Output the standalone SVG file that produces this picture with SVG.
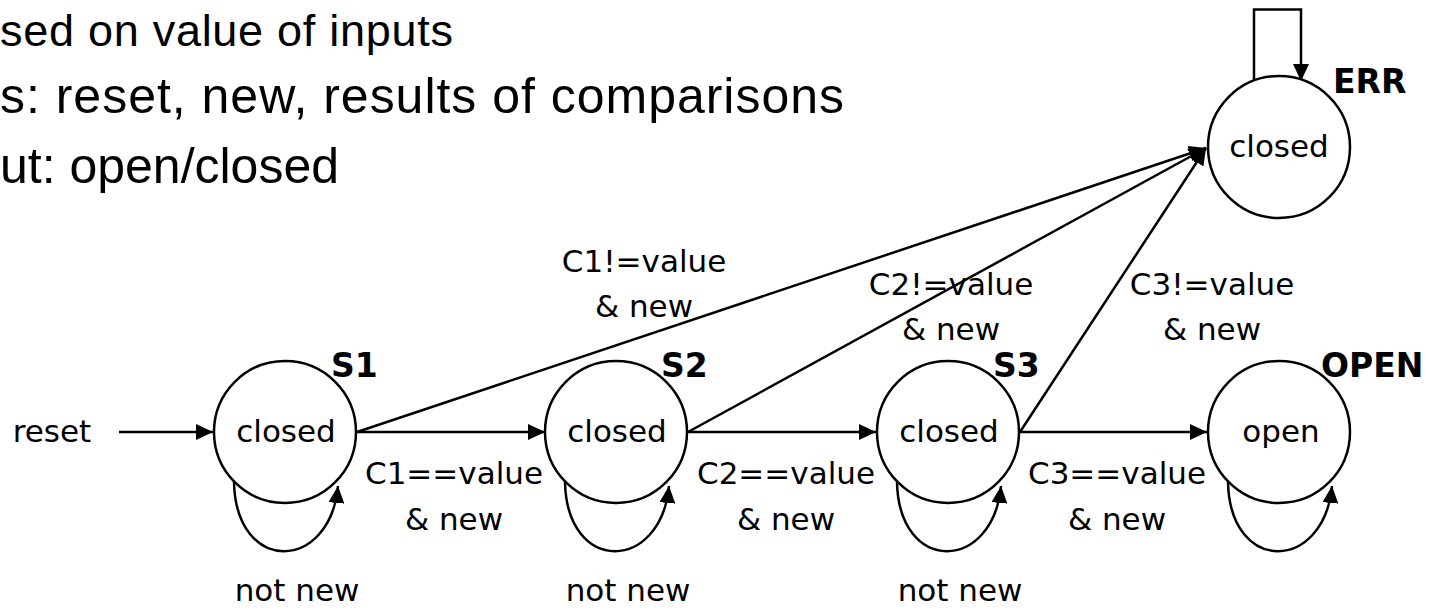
<svg xmlns="http://www.w3.org/2000/svg" width="1431" height="612" viewBox="0 0 1431 612">
  <style>
    .bullet { font-family: "Liberation Sans", Arial, sans-serif; font-size: 50px; fill: #000; }
    .lbl { font-family: "DejaVu Sans", Verdana, sans-serif; font-size: 31px; fill: #000; text-anchor: middle; }
    .name { font-family: "DejaVu Sans", Verdana, sans-serif; font-size: 33px; font-weight: bold; fill: #000; }
    .state { fill: #fff; stroke: #000; stroke-width: 2.5; }
    .edge { fill: none; stroke: #000; stroke-width: 2.5; marker-end: url(#arr); }
  </style>
  <defs>
    <marker id="arr" markerUnits="userSpaceOnUse" markerWidth="18" markerHeight="16" refX="17" refY="8" orient="auto">
      <path d="M0,0 L17,8 L0,16 z" fill="#000"/>
    </marker>
  </defs>

  <rect width="1431" height="612" fill="#fff"/>

  <!-- bullet text, clipped at the left edge -->
  <g id="bullets">
    <text class="bullet" x="0" y="46" style="font-size:45px" textLength="453" lengthAdjust="spacing">sed on value of inputs</text>
    <text class="bullet" x="0" y="113" textLength="844" lengthAdjust="spacing">s: reset, new, results of comparisons</text>
    <text class="bullet" x="0" y="183" textLength="339" lengthAdjust="spacing">ut: open/closed</text>
  </g>

  <!-- transitions -->
  <g id="connectors">
    <!-- reset entry -->
    <line class="edge" x1="119" y1="432" x2="213" y2="432"/>
    <!-- forward transitions -->
    <line class="edge" x1="357" y1="432" x2="545" y2="432"/>
    <line class="edge" x1="688" y1="432" x2="876" y2="432"/>
    <line class="edge" x1="1020" y1="432" x2="1207" y2="432"/>
    <!-- error transitions -->
    <line class="edge" x1="357" y1="432" x2="1206" y2="148"/>
    <line class="edge" x1="688" y1="432" x2="1206" y2="148"/>
    <line class="edge" x1="1020" y1="432" x2="1206" y2="148"/>
    <!-- self loops -->
    <path class="edge" d="M234,482 C236,575 330,572 338,486"/>
    <path class="edge" d="M565,482 C567,575 661,572 669,486"/>
    <path class="edge" d="M897,482 C899,575 993,572 1001,486"/>
    <path class="edge" d="M1228,482 C1230,575 1324,572 1332,486"/>
    <path class="edge" d="M1254,82 V9.5 H1301 V81"/>

    <!-- transition labels -->
    <text class="lbl" x="644" y="272">C1!=value</text>
    <text class="lbl" x="644" y="317">&amp; new</text>
    <text class="lbl" x="951" y="295">C2!=value</text>
    <text class="lbl" x="951" y="340">&amp; new</text>
    <text class="lbl" x="1212" y="295">C3!=value</text>
    <text class="lbl" x="1212" y="340">&amp; new</text>
    <text class="lbl" x="454" y="484">C1==value</text>
    <text class="lbl" x="454" y="530">&amp; new</text>
    <text class="lbl" x="786" y="484">C2==value</text>
    <text class="lbl" x="786" y="530">&amp; new</text>
    <text class="lbl" x="1117" y="484">C3==value</text>
    <text class="lbl" x="1117" y="530">&amp; new</text>
    <text class="lbl" x="297" y="601">not new</text>
    <text class="lbl" x="628" y="601">not new</text>
    <text class="lbl" x="960" y="601">not new</text>
    <text class="lbl" x="52" y="442">reset</text>
  </g>

  <!-- states -->
  <g id="S1">
    <circle class="state" cx="285" cy="432" r="71"/>
    <text class="lbl" x="286" y="442">closed</text>
    <text class="name" x="331" y="377">S1</text>
  </g>
  <g id="S2">
    <circle class="state" cx="616" cy="432" r="71"/>
    <text class="lbl" x="617" y="442">closed</text>
    <text class="name" x="661" y="377">S2</text>
  </g>
  <g id="S3">
    <circle class="state" cx="948" cy="432" r="71"/>
    <text class="lbl" x="949" y="442">closed</text>
    <text class="name" x="993" y="377">S3</text>
  </g>
  <g id="OPEN">
    <circle class="state" cx="1279" cy="432" r="71"/>
    <text class="lbl" x="1281" y="442">open</text>
    <text class="name" x="1321" y="377">OPEN</text>
  </g>
  <g id="ERR">
    <circle class="state" cx="1279" cy="147" r="71"/>
    <text class="lbl" x="1279" y="157">closed</text>
    <text class="name" x="1333" y="93">ERR</text>
  </g>
</svg>
